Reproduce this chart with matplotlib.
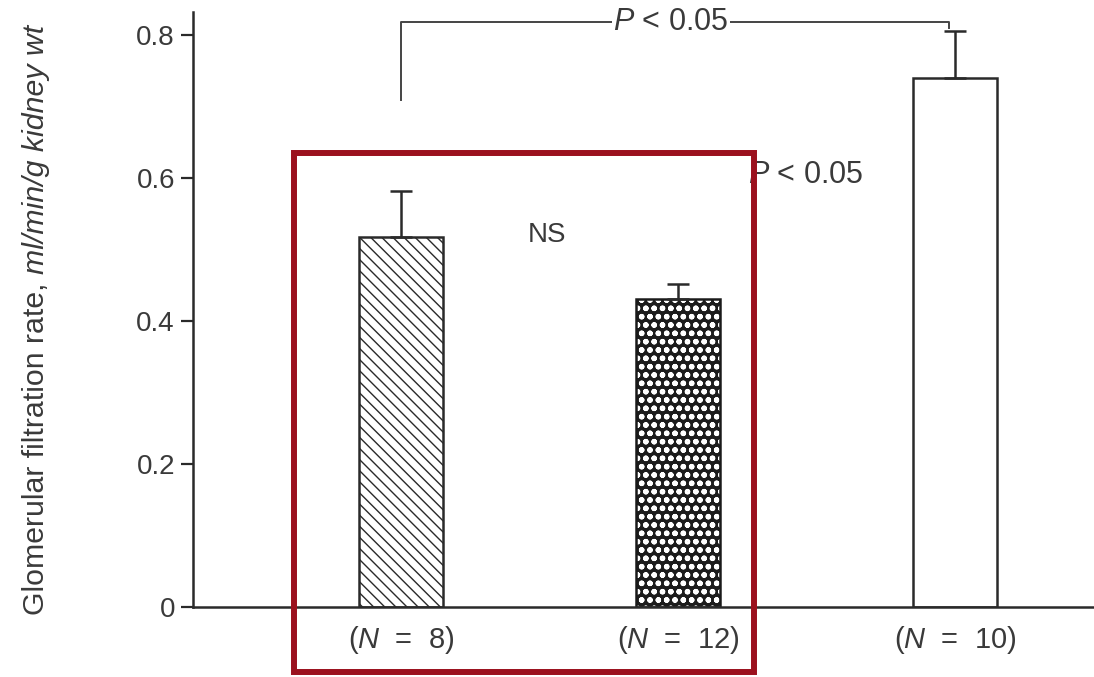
import matplotlib
matplotlib.use('Agg')
import matplotlib.pyplot as plt
from matplotlib.patches import Rectangle

plt.rcParams['font.family'] = ['Liberation Sans', 'DejaVu Sans']
plt.rcParams['mathtext.fontset'] = 'custom'
plt.rcParams['mathtext.rm'] = 'Liberation Sans'
plt.rcParams['mathtext.it'] = 'Liberation Sans:italic'

# data
groups = ['(N  =  8)', '(N  =  12)', '(N  =  10)']
gfr_mean = [0.517, 0.430, 0.740]
gfr_sem = [0.065, 0.022, 0.065]
y_ticks = [0, 0.2, 0.4, 0.6, 0.8]
y_ticklabels = ['0', '0.2', '0.4', '0.6', '0.8']

ink = '#2a2a2a'
txt = '#3a3a3a'
fig = plt.figure(figsize=(10.94, 6.77), dpi=100)
ax = fig.add_axes([0.1764, 0.1034, 0.8236, 0.8789])

x = list(range(len(groups)))
w = 0.30

# bar 1: diagonal hatch
b1 = ax.bar(x[0], gfr_mean[0], width=w, color='white', edgecolor=ink,
            hatch='\\\\\\', linewidth=1.8, zorder=2)

# bar 2: dark fill with small white dots, outline drawn on top
with plt.rc_context({'hatch.linewidth': 1.6}):
    b2 = ax.bar(x[1], gfr_mean[1], width=w, color='#1c1c1c', edgecolor='white',
                hatch='oo', linewidth=0, zorder=2)
if hasattr(b2[0], 'set_hatch_linewidth'):
    b2[0].set_hatch_linewidth(1.6)
    b1[0].set_hatch_linewidth(1.0)
ax.bar(x[1], gfr_mean[1], width=w, color='none', edgecolor='#1a1a1a',
       linewidth=1.8, zorder=2.5)

# bar 3: open
ax.bar(x[2], gfr_mean[2], width=w, color='white', edgecolor=ink,
       linewidth=1.8, zorder=2)

# upper error bars only
ax.errorbar(x, gfr_mean, yerr=[[0] * 3, gfr_sem], fmt='none', ecolor=ink,
            elinewidth=1.8, capsize=8, capthick=1.8, zorder=3)

ax.set_xlim(-0.751, 2.502)
ax.set_ylim(0, 0.832)
ax.set_yticks(y_ticks)
ax.set_yticklabels(y_ticklabels, fontsize=20, color=txt)
ax.set_xticks([])
ax.tick_params(axis='y', direction='out', length=9, width=1.6, pad=4, color=ink)
for s in ['top', 'right']:
    ax.spines[s].set_visible(False)
for s in ['left', 'bottom']:
    ax.spines[s].set_linewidth(1.8)
    ax.spines[s].set_color(ink)
ax.patch.set_alpha(0)

for xi, g in zip(x, groups):
    ax.text(xi, -0.046, g.replace('N', '$\\it{N}$'), ha='center', va='center',
            fontsize=21, color=txt)

# y label: upright part, then italic units stacked above it
lab1 = fig.text(0.033, 1 - 615 / 677, 'Glomerular filtration rate, ',
                rotation=90, ha='center', va='bottom', fontsize=21.8, color=txt)
renderer = fig.canvas.get_renderer()
bb = lab1.get_window_extent(renderer).transformed(fig.transFigure.inverted())
fig.text(0.033, bb.y1, 'ml/min/g kidney wt', rotation=90, ha='center',
         va='bottom', fontsize=21.8, style='italic', color=txt)

# significance bracket
ax.plot([0, 0, 1.98, 1.98], [0.709, 0.818, 0.818, 0.810], color='#444444',
        lw=1.4, clip_on=False, zorder=3)
ax.text(0.975, 0.818, '$\\it{P}$ < 0.05', ha='center', va='center', fontsize=22,
        color=txt, bbox=dict(facecolor='white', edgecolor='none', pad=1.0),
        zorder=4)
ax.text(1.46, 0.604, '$\\it{P}$ < 0.05', ha='center', va='center', fontsize=22,
        color=txt)
ax.text(0.527, 0.52, 'NS', ha='center', va='center', fontsize=20, color=txt)

# red highlight box
fig.patches.append(Rectangle((294 / 1094, 1 - 672 / 677), 460 / 1094, 519 / 677,
                             transform=fig.transFigure, fill=False,
                             edgecolor='#9b111e', linewidth=4.3, zorder=10))

fig.savefig('out.png', dpi=100)
